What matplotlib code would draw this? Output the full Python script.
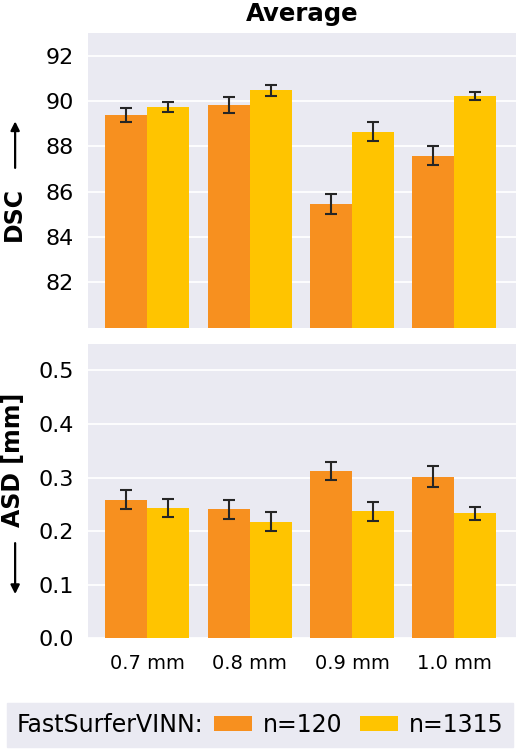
import numpy as np
import matplotlib
matplotlib.use("Agg")
import matplotlib.pyplot as plt
from matplotlib.patches import Patch
from matplotlib.offsetbox import HPacker

# data
resolutions = ["0.7 mm", "0.8 mm", "0.9 mm", "1.0 mm"]
groups = ["n=120", "n=1315"]
colors = ["#F7901F", "#FFC400"]

dsc_120 = [89.38, 89.82, 85.45, 87.58]
dsc_120_err = [0.29, 0.34, 0.44, 0.42]
dsc_1315 = [89.75, 90.47, 88.65, 90.21]
dsc_1315_err = [0.22, 0.23, 0.42, 0.18]

asd_120 = [0.259, 0.241, 0.312, 0.302]
asd_120_err = [0.018, 0.018, 0.017, 0.019]
asd_1315 = [0.243, 0.218, 0.237, 0.233]
asd_1315_err = [0.017, 0.017, 0.018, 0.013]

plt.rcParams['font.family'] = ['DejaVu Sans']

fig, (ax1, ax2) = plt.subplots(2, 1, figsize=(5.2, 7.5), dpi=100)
fig.subplots_adjust(left=0.169, right=0.992, top=0.956, bottom=0.149, hspace=0.055)

x = np.arange(len(resolutions))
w = 0.41

def draw(ax, vals, errs):
    for i, (v, e) in enumerate(zip(vals, errs)):
        pos = x + (i - 0.5) * w
        ax.bar(pos, v, width=w, color=colors[i], linewidth=0, zorder=2)
        ax.errorbar(pos, v, yerr=e, fmt='none', ecolor='#262626',
                    elinewidth=1.5, capsize=4, capthick=1.5, zorder=3)
    ax.set_facecolor('#EAEAF2')
    ax.grid(axis='y', color='white', linewidth=1.3, zorder=0)
    ax.set_axisbelow(True)
    for s in ax.spines.values():
        s.set_visible(False)
    ax.tick_params(length=0, labelsize=16, pad=10)
    ax.set_xlim(-0.58, 3.6)

def arrow(ax, y0, y1):
    # thin arrow next to the y label (axes fraction)
    ax.annotate("", xy=(-0.17, y1), xytext=(-0.17, y0),
                xycoords='axes fraction', annotation_clip=False,
                arrowprops=dict(arrowstyle='-|>', color='black', lw=1.6,
                                mutation_scale=13, shrinkA=0, shrinkB=0))

draw(ax1, [dsc_120, dsc_1315], [dsc_120_err, dsc_1315_err])
ax1.set_ylim(80, 93)
ax1.set_yticks([82, 84, 86, 88, 90, 92])
ax1.set_xticks([])
ax1.set_title("Average", fontsize=17.6, fontweight='bold', pad=8.5)
ax1.set_ylabel("DSC", fontsize=17, fontweight='bold')
ax1.yaxis.set_label_coords(-0.146, 0.386)
arrow(ax1, 0.542, 0.70)

draw(ax2, [asd_120, asd_1315], [asd_120_err, asd_1315_err])
ax2.set_ylim(0, 0.55)
ax2.set_yticks([0.0, 0.1, 0.2, 0.3, 0.4, 0.5])
ax2.set_xticks(x)
ax2.set_xticklabels(resolutions, fontsize=14)
ax2.tick_params(axis='x', pad=11)
ax2.set_ylabel("ASD [mm]", fontsize=17, fontweight='bold')
ax2.yaxis.set_label_coords(-0.146, 0.607)
arrow(ax2, 0.323, 0.15)

handles = [Patch(color=c, linewidth=0) for c in colors]
leg = fig.legend(handles, groups, title="FastSurferVINN:", ncol=2,
                 loc='lower center', bbox_to_anchor=(0.5, 0.004),
                 borderaxespad=0,
                 fontsize=17, title_fontsize=17, frameon=True,
                 facecolor='#EAEAF2', edgecolor='#EAEAF2', framealpha=1,
                 handlelength=1.6, handleheight=0.6, handletextpad=0.45,
                 columnspacing=0.75, borderpad=0.42, fancybox=False)
# put the title to the left of the entries
old = leg._legend_box
leg._legend_box = HPacker(pad=old.pad, sep=8, align='center',
                          children=[leg._legend_title_box, leg._legend_handle_box])
leg._legend_box.set_figure(fig)
leg._legend_box.set_offset(leg._findoffset)

fig.savefig("out.png", dpi=100)
